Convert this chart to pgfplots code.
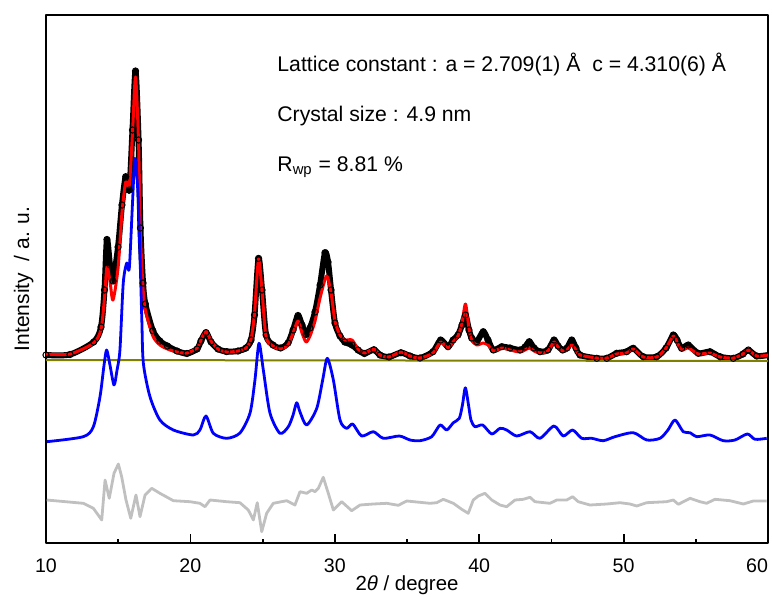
\documentclass[border=0pt]{standalone}
\usepackage{fontspec}
\setmainfont{Liberation Sans}
\usepackage{pgfplots}
\pgfplotsset{compat=1.18}
\definecolor{olivebg}{RGB}{128,128,0}
\definecolor{diffgray}{RGB}{192,192,192}
\begin{document}
\begin{tikzpicture}[line join=round]
\begin{axis}[
  scale only axis,
  width=361pt, height=264pt,
  xmin=10, xmax=60, ymin=0, ymax=528,
  axis line style={line width=1pt},
  xtick={10,20,30,40,50,60},
  xticklabels={10,20,30,40,50,\llap{60}},
  minor x tick num=1,
  xtick pos=bottom,
  ytick=\empty,
  major tick length=4.5pt, minor tick length=2.2pt,
  every tick/.style={black, line width=0.9pt},
  tick align=inside,
  xticklabel style={font=\fontsize{9.8}{11}\selectfont, yshift=-4.2pt},
  xlabel={2\textit{θ} / degree},
  xlabel style={font=\fontsize{10.2}{12}\selectfont, at={(axis description cs:0.5,0)}, anchor=base, yshift=-23.5pt},
  ylabel={Intensity \ / a. u.},
  ylabel style={font=\fontsize{10.5}{12}\selectfont, at={(axis description cs:-0.0235,0.5)}, anchor=base, rotate=0},
]
% observed (black circles)
\addplot[black, line width=3pt, line join=round, smooth, tension=0.45, mark=o, mark size=1.55pt, mark options={line width=0.5pt, solid}] table[x=x,y=y] {
x y
10.00 188
11.66 188.5
13.30 201
13.81 216
14.05 253
14.22 303.5
14.43 278
14.64 262
14.99 296
15.26 338
15.52 366.3
15.77 353
15.99 413
16.20 472
16.41 403
16.54 315
16.72 260
16.88 239
17.40 212.3
17.89 202
18.41 197
19.07 192
19.76 189.5
20.46 194
20.73 202
21.08 210.4
21.43 201
21.91 194
22.51 191.4
23.30 192
23.85 195
24.20 203
24.44 228
24.72 284.6
24.96 253
25.24 208
25.72 198
26.25 195
26.76 200
27.11 213
27.45 227.5
27.73 218
28.01 208.5
28.28 215
28.63 231
28.98 258
29.32 290.3
29.53 281
29.74 253
30.01 220
30.36 207
30.69 201
31.19 198
31.61 193
32.05 189.5
32.71 193.3
33.13 188
33.75 186
34.58 190.3
35.21 187
35.90 185
36.80 191.3
37.33 203
37.84 196.3
38.19 203
38.53 208
38.81 218
39.05 228
39.29 213
39.48 205
39.83 201.3
40.28 211.3
40.61 203
40.98 193
41.56 196.3
42.13 195
42.83 193
43.17 196
43.47 201.3
43.80 195
44.21 191.3
44.76 193
45.18 203
45.46 197
45.78 193
46.08 195
46.41 203
46.70 195
46.98 188
48.14 184.7
48.83 184.7
49.52 189.7
50.21 191.3
50.67 194.7
51.36 186.3
52.29 186.3
52.94 195
53.44 208
53.70 203
54.02 194.7
54.48 198
55.17 189.7
55.98 191.3
56.68 186.3
57.60 184.7
58.27 189
58.64 193
59.22 187
60.02 188
};
% calculated (red)
\addplot[red, line width=1.5pt, line join=round, smooth, tension=0.45] table[x=x,y=y] {
x y
10.00 189
11.66 189
13.30 200
13.81 214
14.05 245
14.22 276
14.43 262
14.64 243
14.99 275
15.26 330
15.52 361
15.77 358
15.99 410
16.20 466
16.41 400
16.54 310
16.72 255
16.88 233
17.40 207
17.89 198
18.41 194
19.07 191
19.76 190
20.46 195
20.73 203
21.08 212
21.43 202
21.91 194
22.51 191
23.30 192
23.85 195
24.20 204
24.44 230
24.72 284
24.96 252
25.24 206
25.72 197
26.25 194
26.76 198
27.11 210
27.45 222
27.73 210
28.01 201
28.28 207
28.63 222
28.98 245
29.43 267
29.74 250
30.01 222
30.36 208
30.69 203
31.19 203
31.61 194
32.05 190
32.71 194
33.13 188
33.75 186
34.58 191
35.21 187
35.90 185
36.80 190
37.33 201
37.84 195
38.19 201
38.53 207
38.81 220
39.05 239
39.29 215
39.48 203
39.83 198
40.28 200
40.61 198
40.98 192
41.56 195
42.13 193
42.83 191
43.17 193
43.47 195
43.80 192
44.21 190
44.76 192
45.18 201
45.46 196
45.78 192
46.08 193
46.41 198
46.70 193
46.98 188
48.14 185
48.83 185
49.52 189
50.21 190
50.67 194
51.36 186
52.29 186
52.94 195
53.44 207
53.70 201
54.02 193
54.48 195
55.17 189
55.98 190
56.68 186
57.60 185
58.27 189
58.64 193
59.22 187
60.02 188
};
% background (olive)
\addplot[olivebg, line width=1pt] coordinates {(10,183) (60,182)};
% Bragg / phase profile (blue)
\addplot[blue, line width=1.4pt, line join=round, smooth, tension=0.45] table[x=x,y=y] {
x y
10.05 101.3
12.58 106.3
13.28 116.3
13.74 146.3
14.02 178
14.20 193
14.43 178
14.71 158
14.92 173
15.12 193
15.35 260
15.59 280
15.77 275
16.00 343
16.16 384.7
16.39 343
16.63 226.3
16.74 180
17.20 146.3
17.89 123
18.82 113
20.20 108
20.66 113
21.08 127
21.59 109.7
22.51 104.7
23.43 110
24.13 130
24.47 163
24.75 199.7
25.05 173
25.51 130
26.20 109.7
26.78 116.3
27.11 128
27.36 140.3
27.59 131
28.05 118
28.75 134.7
29.16 163
29.48 184.7
29.90 163
30.36 123
30.82 114.7
31.24 119
31.86 107
32.67 111.3
33.36 104.7
34.47 107
35.21 103
35.90 102.3
36.71 106.3
37.29 118
37.75 113
38.21 120.3
38.62 124.7
38.84 138
39.04 155.2
39.26 138
39.43 123
39.71 116.3
40.24 118
40.87 109
41.44 114.7
41.90 113
42.60 107
43.52 111.3
44.21 104.7
45.18 117
45.82 107
46.47 113
47.10 104.7
47.79 104.7
48.59 102.3
49.40 106.3
50.67 110.3
51.60 103
52.52 104.7
53.07 113
53.56 123
54.13 111.3
54.60 110.3
55.06 106.3
55.98 108
56.90 102.3
57.71 103
58.57 109
59.10 103.7
59.91 104.7
};
% difference (gray)
\addplot[diffgray, line width=1.4pt, line join=round] table[x=x,y=y] {
x y
10.05 43
12.58 39.7
13.28 34.7
13.86 23
14.09 63
14.38 44.7
14.71 69.7
15.01 79
15.24 66.3
15.54 43
15.87 24.7
16.23 48
16.51 26.3
16.86 48
17.32 54.7
17.89 49.7
18.82 42.3
19.97 41.3
20.66 39.7
21.01 36.3
21.36 43
22.51 41.3
23.43 40.3
24.01 33
24.36 23
24.63 40.3
24.94 11.3
25.28 29.7
25.74 39.7
26.67 42.3
27.24 38
27.59 51.3
28.05 49.7
28.40 53
28.63 51.3
28.86 54.7
29.20 65.7
29.55 49.7
29.90 33
30.48 41.3
31.17 32.3
31.75 38
32.67 39
33.59 39.7
34.40 37.7
34.98 42
36.59 39.7
37.06 40.3
37.51 43.7
38.21 39.7
38.79 33.7
39.24 29.7
39.59 43
39.94 47
40.40 49.7
40.87 43
41.44 38
41.90 36.3
42.48 43
43.05 43.7
43.52 45.7
43.86 41.3
44.90 39.7
45.37 43
46.06 43
46.47 46.3
46.86 41.3
47.67 38
48.83 39
49.75 40.3
50.44 39
50.91 37
51.60 40.3
52.98 41.3
53.44 43
53.79 38.7
54.60 44.7
55.29 41.3
55.75 39.7
56.33 43.7
57.37 42.3
58.29 39
58.98 42
59.91 42
};
\node[anchor=base west, inner sep=0pt, font=\fontsize{10.6}{12}\selectfont] at (axis cs:26.0,471.5) {Lattice constant : a = 2.709(1) Å \ c = 4.310(6) Å};
\node[anchor=base west, inner sep=0pt, font=\fontsize{10.6}{12}\selectfont] at (axis cs:26.0,421.5) {Crystal size : 4.9 nm};
\node[anchor=base west, inner sep=0pt, font=\fontsize{10.6}{12}\selectfont] at (axis cs:26.0,371.5) {R\textsubscript{wp} = 8.81 \%};
\end{axis}
\pgfresetboundingbox
\path[use as bounding box] (-23pt,-26.5pt) rectangle (363pt,271.5pt);
\end{tikzpicture}
\end{document}
